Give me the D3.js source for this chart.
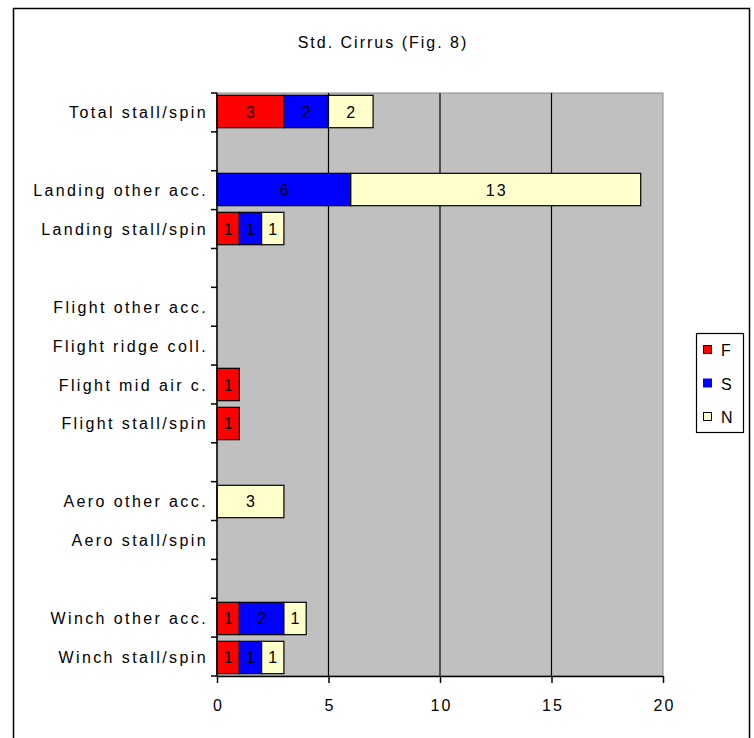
<!DOCTYPE html>
<html>
<head>
<meta charset="utf-8">
<script src="https://cdn.jsdelivr.net/npm/d3@7"></script>
<style>
  body { margin: 0; background: #fff; }
  text { font-family: "Liberation Sans", Arial, sans-serif; fill: #000; letter-spacing: 2px; }
</style>
</head>
<body>
<svg id="chart" width="754" height="738"></svg>
<script>
// rows, top to bottom ("" = empty spacer row)
var categories = ["Total stall/spin", "", "Landing other acc.", "Landing stall/spin", "",
    "Flight other acc.", "Flight ridge coll.", "Flight mid air c.", "Flight stall/spin", "",
    "Aero other acc.", "Aero stall/spin", "", "Winch other acc.", "Winch stall/spin"]
var seriesNames = ["F", "S", "N"]
var valuesF = [3, 0, 0, 1, 0, 0, 0, 1, 1, 0, 0, 0, 0, 1, 1]
var valuesS = [2, 0, 6, 1, 0, 0, 0, 0, 0, 0, 0, 0, 0, 2, 1]
var valuesN = [2, 0, 13, 1, 0, 0, 0, 0, 0, 0, 3, 0, 0, 1, 1]
var xTicks = [0, 5, 10, 15, 20]
var colors = { F: "#FF0000", S: "#0000FF", N: "#FFFFCC" }

var rows = categories.map(function (c, i) {
    return { key: "r" + i, label: c, F: valuesF[i], S: valuesS[i], N: valuesN[i] }
})

var svg = d3.select("#chart")

// outer frame (bottom edge runs off the picture)
svg.append("rect")
    .attr("x", 13.5).attr("y", 8.5)
    .attr("width", 736).attr("height", 760)
    .attr("fill", "none").attr("stroke", "#000").attr("stroke-width", 1.5)

svg.append("text")
    .attr("x", 383).attr("y", 48)
    .attr("text-anchor", "middle")
    .style("font-size", "16px")
    .text("Std. Cirrus (Fig. 8)")

var plotLeft = 217, plotRight = 663, plotTop = 93, plotBottom = 676

var x = d3.scaleLinear().domain([0, 20]).range([plotLeft, plotRight])
var y = d3.scaleBand().domain(rows.map(d => d.key)).range([plotTop, plotBottom])
    .paddingInner(0.17).paddingOuter(0.06)

// plot area
svg.append("rect")
    .attr("x", plotLeft).attr("y", plotTop)
    .attr("width", plotRight - plotLeft).attr("height", plotBottom - plotTop)
    .attr("fill", "#C0C0C0")
    .attr("stroke", "#8C8C8C").attr("stroke-width", 1)

// gridlines
svg.selectAll(".grid")
    .data(xTicks.filter(t => t > 0 && t < 20))
    .enter().append("line")
    .attr("x1", d => x(d)).attr("x2", d => x(d))
    .attr("y1", plotTop).attr("y2", plotBottom)
    .attr("stroke", "#000").attr("stroke-width", 1.2)

// stacked bars
var stack = d3.stack().keys(seriesNames)(rows)

stack.forEach(function (layer) {
    var name = layer.key
    var g = svg.append("g")
    var segs = layer.filter(d => d[1] - d[0] > 0)
    g.selectAll("rect")
        .data(segs)
        .enter().append("rect")
        .attr("x", d => x(d[0]))
        .attr("y", d => y(d.data.key))
        .attr("width", d => x(d[1]) - x(d[0]))
        .attr("height", y.bandwidth())
        .attr("fill", colors[name])
        .attr("stroke", "#000").attr("stroke-width", 1.2)
    g.selectAll("text")
        .data(segs)
        .enter().append("text")
        .attr("x", d => (x(d[0]) + x(d[1])) / 2 + 1)
        .attr("y", d => y(d.data.key) + y.bandwidth() / 2 + 6)
        .attr("text-anchor", "middle")
        .style("font-size", "16px")
        .text(d => d[1] - d[0])
})

// y axis with ticks at row boundaries
svg.append("line")
    .attr("x1", plotLeft).attr("x2", plotLeft)
    .attr("y1", plotTop).attr("y2", plotBottom)
    .attr("stroke", "#000").attr("stroke-width", 1.5)

var boundaries = d3.range(categories.length + 1)
    .map(i => plotTop + i * (plotBottom - plotTop) / categories.length)
svg.selectAll(".ytick")
    .data(boundaries)
    .enter().append("line")
    .attr("x1", plotLeft - 6).attr("x2", plotLeft)
    .attr("y1", d => d).attr("y2", d => d)
    .attr("stroke", "#000").attr("stroke-width", 1.5)

svg.selectAll(".ylabel")
    .data(rows.filter(d => d.label != ""))
    .enter().append("text")
    .attr("x", 208)
    .attr("y", d => y(d.key) + y.bandwidth() / 2 + 6)
    .attr("text-anchor", "end")
    .style("font-size", "16px")
    .style("letter-spacing", "2.4px")
    .text(d => d.label)

// x axis
var xAxis = svg.append("g")
    .attr("transform", "translate(0," + plotBottom + ")")
    .call(d3.axisBottom(x).tickValues(xTicks).tickSize(7).tickSizeOuter(0))
xAxis.select(".domain").attr("stroke-width", 1.5)
xAxis.selectAll(".tick line").attr("stroke-width", 1.5)
xAxis.selectAll(".tick text")
    .attr("y", 24)
    .attr("x", 1)
    .style("font-size", "16px")
    .style("font-family", "Liberation Sans, Arial, sans-serif")

// legend
var legend = svg.append("g")
legend.append("rect")
    .attr("x", 696.5).attr("y", 333.5)
    .attr("width", 47).attr("height", 99)
    .attr("fill", "#fff").attr("stroke", "#000").attr("stroke-width", 1.2)

var ly = d3.scalePoint().domain(seriesNames).range([350, 417])
seriesNames.forEach(function (name) {
    legend.append("rect")
        .attr("x", 703.5).attr("y", ly(name) - 4.5)
        .attr("width", 8).attr("height", 8)
        .attr("fill", colors[name])
        .attr("stroke", name == "S" ? colors[name] : "#000").attr("stroke-width", 1)
    legend.append("text")
        .attr("x", 721).attr("y", ly(name) + 6)
        .style("font-size", "16px")
        .text(name)
})
</script>
</body>
</html>
